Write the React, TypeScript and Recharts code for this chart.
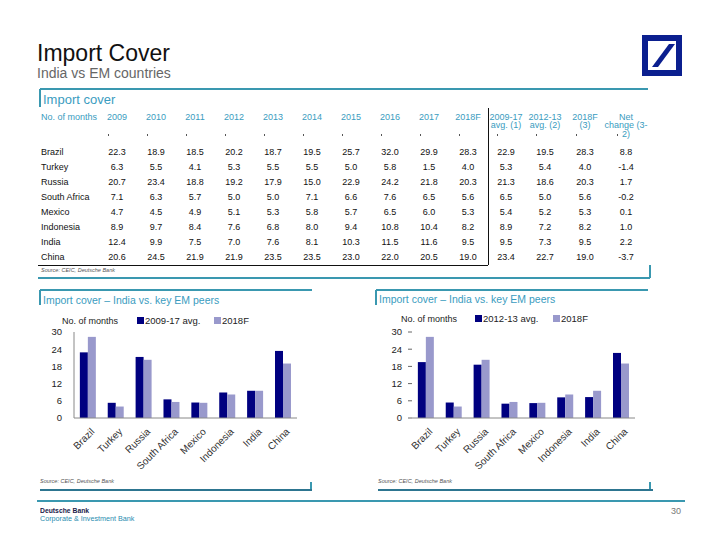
import React from 'react';
import { BarChart, Bar, XAxis, YAxis } from 'recharts';

const countries = ['Brazil', 'Turkey', 'Russia', 'South Africa', 'Mexico', 'Indonesia', 'India', 'China'];
const years = ['2009', '2010', '2011', '2012', '2013', '2014', '2015', '2016', '2017', '2018F'];
const summaryHeaders = [['2009-17', 'avg. (1)'], ['2012-13', 'avg. (2)'], ['2018F', '(3)'], ['Net', 'change (3-', '2)']];

const brazil = [22.3, 18.9, 18.5, 20.2, 18.7, 19.5, 25.7, 32.0, 29.9, 28.3];
const turkey = [6.3, 5.5, 4.1, 5.3, 5.5, 5.5, 5.0, 5.8, 1.5, 4.0];
const russia = [20.7, 23.4, 18.8, 19.2, 17.9, 15.0, 22.9, 24.2, 21.8, 20.3];
const southAfrica = [7.1, 6.3, 5.7, 5.0, 5.0, 7.1, 6.6, 7.6, 6.5, 5.6];
const mexico = [4.7, 4.5, 4.9, 5.1, 5.3, 5.8, 5.7, 6.5, 6.0, 5.3];
const indonesia = [8.9, 9.7, 8.4, 7.6, 6.8, 8.0, 9.4, 10.8, 10.4, 8.2];
const india = [12.4, 9.9, 7.5, 7.0, 7.6, 8.1, 10.3, 11.5, 11.6, 9.5];
const china = [20.6, 24.5, 21.9, 21.9, 23.5, 23.5, 23.0, 22.0, 20.5, 19.0];
const yearlyRows = [brazil, turkey, russia, southAfrica, mexico, indonesia, india, china];

const avg0917 = [22.9, 5.3, 21.3, 6.5, 5.4, 8.9, 9.5, 23.4];
const avg1213 = [19.5, 5.4, 18.6, 5.0, 5.2, 7.2, 7.3, 22.7];
const f2018 = [28.3, 4.0, 20.3, 5.6, 5.3, 8.2, 9.5, 19.0];
const netChange = [8.8, -1.4, 1.7, -0.2, 0.1, 1.0, 2.2, -3.7];

const yTicks = [0, 6, 12, 18, 24, 30];

const chart1Data = countries.map((c, i) => ({ country: c, avg: avg0917[i], f: f2018[i] }));
const chart2Data = countries.map((c, i) => ({ country: c, avg: avg1213[i], f: f2018[i] }));

const FONT = '"Liberation Sans", Arial, sans-serif';
const TEAL = '#3a9cc0';
const LINE = '#3a98b0';
const NAVY = '#000080';
const LAV = '#9999cc';

type TP = { x: number; y: number; size?: number; color?: string; children: React.ReactNode; anchor?: 'left' | 'center' | 'right'; w?: number; weight?: any; style?: any };
const T = ({ x, y, size = 9, color = '#111', children, anchor = 'left', w = 60, weight = 'normal', style = {} }: TP) => {
  let left = x;
  if (anchor === 'center') left = x - w / 2;
  if (anchor === 'right') left = x - w;
  return (
    <div
      style={{
        position: 'absolute', left, top: y - size / 2, width: anchor === 'left' ? undefined : w,
        fontSize: size, lineHeight: `${size}px`, color, fontFamily: FONT, whiteSpace: 'nowrap',
        textAlign: anchor, fontWeight: weight, ...style,
      }}
    >
      {children}
    </div>
  );
};

const HL = ({ x1, x2, y, c = LINE, t = 1.5 }: any) => (
  <div style={{ position: 'absolute', left: x1, top: y - t / 2, width: x2 - x1, height: t, background: c }} />
);
const VL = ({ x, y1, y2, c = LINE, t = 1.5 }: any) => (
  <div style={{ position: 'absolute', left: x - t / 2, top: y1, width: t, height: y2 - y1, background: c }} />
);

const RotTick = (props: any) => {
  const { x, y, payload } = props;
  return (
    <g transform={`translate(${x + 3},${y + 2})`}>
      <text x={0} y={0} dy={6} textAnchor="end" transform="rotate(-45)" fontSize={10} fill="#333" fontFamily={FONT}>
        {payload.value}
      </text>
    </g>
  );
};

const colX = (i: number) => 117 + 39 * i;
const sumX = [506, 545, 585, 626];
const rowY = (i: number) => 152 + 15 * i;

const Legend2 = ({ x, y, label, sx1, tx1, sx2, tx2 }: any) => (
  <>
    <T x={x} y={y} size={9} color="#222">No. of months</T>
    <div style={{ position: 'absolute', left: sx1, top: y - 4, width: 7, height: 7, background: NAVY }} />
    <T x={tx1} y={y} size={9.5} color="#222">{label}</T>
    <div style={{ position: 'absolute', left: sx2, top: y - 4, width: 7, height: 7, background: LAV }} />
    <T x={tx2} y={y} size={9.5} color="#222">2018F</T>
  </>
);

const ImportChart = ({ data, left, yAxisLine }: any) => (
  <div style={{ position: 'absolute', left, top: 300 }}>
    <BarChart width={272} height={178} data={data} margin={{ top: 32, right: 15, left: 0, bottom: 0 }} barCategoryGap="21%" barGap={0}>
      <YAxis
        domain={[0, 30]} ticks={yTicks} width={34} axisLine={yAxisLine ? { stroke: '#888' } : false}
        tickLine={yAxisLine ? false : { stroke: '#666' }} tickSize={4} tickMargin={yAxisLine ? 8 : 6}
        tick={{ fontSize: 9.5, fill: '#222', fontFamily: FONT }} interval={0}
      />
      <XAxis dataKey="country" height={60} interval={0} tickLine={false} axisLine={{ stroke: '#888' }} tick={<RotTick />} />
      <Bar dataKey="avg" fill={NAVY} isAnimationActive={false} />
      <Bar dataKey="f" fill={LAV} isAnimationActive={false} />
    </BarChart>
  </div>
);

export default function App() {
  return (
    <div style={{ position: 'absolute', left: 0, top: 0, width: 720, height: 540, background: '#fff', overflow: 'hidden', fontFamily: FONT }}>
      {/* Title */}
      <T x={37} y={53} size={23} color="#111">Import Cover</T>
      <T x={37} y={73} size={14} color="#666">India vs EM countries</T>
      <svg style={{ position: 'absolute', left: 0, top: 0 }} width={720} height={90}>
        <rect x={642} y={35} width={40} height={41} fill="#0b1f8f" />
        <rect x={648} y={41} width={28} height={29} fill="#fff" />
        <polygon points="652,67 658,67 675,44 669,44" fill="#0b1f8f" />
      </svg>

      {/* Table box */}
      <HL x1={40} x2={648} y={89} />
      <VL x={40} y1={89} y2={107} />
      <T x={43} y={99} size={13} color={TEAL}>Import cover</T>
      <T x={41} y={117} size={9} color={TEAL}>No. of months</T>
      {years.map((yr, i) => (
        <T key={yr} x={colX(i)} y={117} size={9} color={TEAL} anchor="center" w={40}>{yr}</T>
      ))}
      {summaryHeaders.map((lines, j) =>
        lines.map((ln, k) => (
          <T key={`${j}-${k}`} x={sumX[j]} y={117 + 8.5 * k} size={9} color={TEAL} anchor="center" w={50}>{ln}</T>
        ))
      )}
      {Array.from({ length: 14 }).map((_, i) => (
        <div key={`d${i}`} style={{ position: 'absolute', left: (i < 10 ? colX(i) : sumX[i - 10]) - 9, top: 134, width: 1, height: 1.5, background: '#555' }} />
      ))}
      {countries.map((c, i) => (
        <React.Fragment key={c}>
          <T x={41} y={rowY(i)} size={9} color="#111">{c}</T>
          {yearlyRows[i].map((v, k) => (
            <T key={k} x={colX(k)} y={rowY(i)} size={9} color="#111" anchor="center" w={40}>{v.toFixed(1)}</T>
          ))}
          <T x={sumX[0]} y={rowY(i)} size={9} color="#111" anchor="center" w={40}>{avg0917[i].toFixed(1)}</T>
          <T x={sumX[1]} y={rowY(i)} size={9} color="#111" anchor="center" w={40}>{avg1213[i].toFixed(1)}</T>
          <T x={sumX[2]} y={rowY(i)} size={9} color="#111" anchor="center" w={40}>{f2018[i].toFixed(1)}</T>
          <T x={sumX[3]} y={rowY(i)} size={9} color="#111" anchor="center" w={40}>{netChange[i].toFixed(1)}</T>
        </React.Fragment>
      ))}
      <VL x={488} y1={108} y2={265} c="#111" t={1} />
      <HL x1={38} x2={488} y={265} c="#111" t={1} />
      <T x={41} y={270.5} size={5.5} color="#555" style={{ fontStyle: 'italic' }}>Source: CEIC, Deutsche Bank</T>
      <HL x1={38} x2={650} y={278} />
      <VL x={650} y1={265} y2={278} />

      {/* Chart 1 */}
      <HL x1={40} x2={312} y={290} />
      <VL x={40} y1={290} y2={305} />
      <T x={43} y={300} size={10.5} color={TEAL}>Import cover – India vs. key EM peers</T>
      <Legend2 x={62} y={321} label="2009-17 avg." sx1={137} tx1={145} sx2={214} tx2={222} />
      <ImportChart data={chart1Data} left={40} yAxisLine={true} />
      <T x={40} y={482} size={5.5} color="#555" style={{ fontStyle: 'italic' }}>Source: CEIC, Deutsche Bank</T>
      <VL x={311} y1={482} y2={490} />
      <HL x1={40} x2={312} y={490} c="#2d7590" />

      {/* Chart 2 */}
      <HL x1={376} x2={648} y={290} />
      <VL x={376} y1={290} y2={305} />
      <T x={379} y={299} size={10.5} color={TEAL}>Import cover – India vs. key EM peers</T>
      <Legend2 x={401} y={319} label="2012-13 avg." sx1={475} tx1={483} sx2={553} tx2={561} />
      <ImportChart data={chart2Data} left={378} yAxisLine={false} />
      <T x={378} y={482} size={5.5} color="#555" style={{ fontStyle: 'italic' }}>Source: CEIC, Deutsche Bank</T>
      <VL x={650} y1={482} y2={490} />
      <HL x1={378} x2={653} y={490} c="#2d7590" />

      {/* Footer */}
      <HL x1={37} x2={685} y={501} />
      <T x={40} y={511} size={8} color="#1a1a4a" weight="bold" style={{ transform: 'scaleX(0.85)', transformOrigin: 'left' }}>Deutsche Bank</T>
      <T x={40} y={519} size={8} color="#2a8db0" style={{ transform: 'scaleX(0.9)', transformOrigin: 'left' }}>Corporate &amp; Investment Bank</T>
      <T x={681} y={511} size={9} color="#777" anchor="right" w={30}>30</T>
    </div>
  );
}
